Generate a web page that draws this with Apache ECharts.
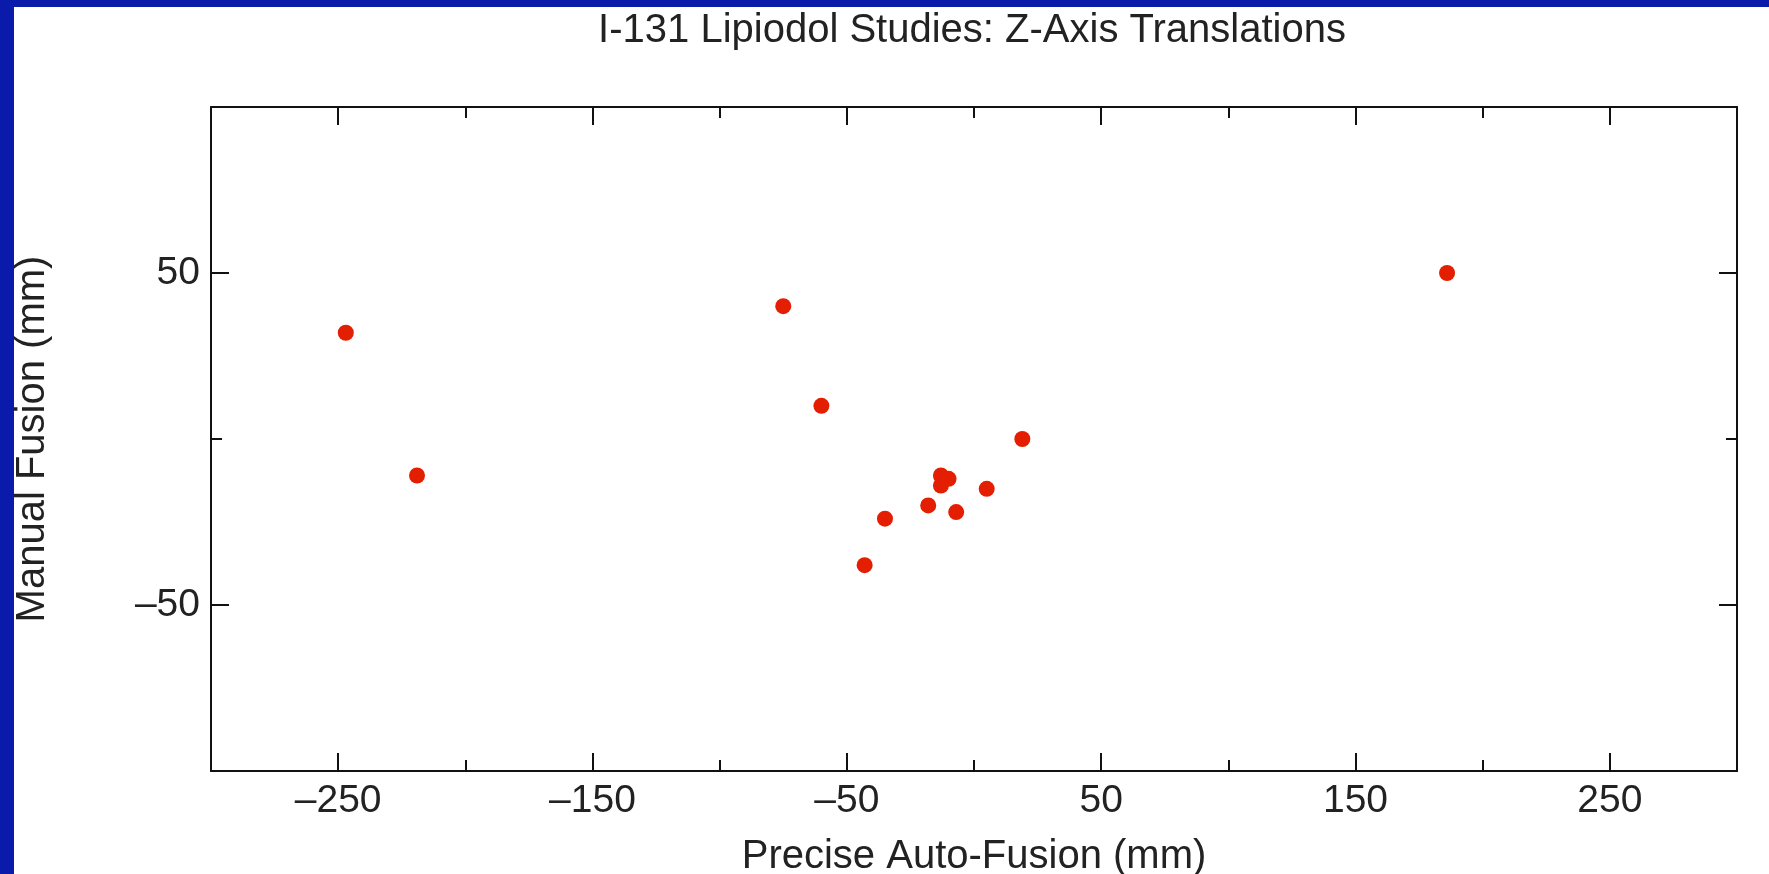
<!DOCTYPE html>
<html>
<head>
<meta charset="utf-8">
<script src="https://cdn.jsdelivr.net/npm/echarts@6/dist/echarts.min.js"></script>
<style>
html,body{margin:0;padding:0;background:#0A1AAA;}
#chart{width:1769px;height:874px;}
</style>
</head>
<body>
<div id="chart"></div>
<script>
// Data
var autoFusion = [-247, -219, -75, -60, 19, -13, -10, -13, 5, -18, -7, -35, -43, 186];
var manualFusion = [32, -11, 40, 10, 0, -11, -12, -14, -15, -20, -22, -24, -38, 50];
var xMajorTicks = [-250, -150, -50, 50, 150, 250];
var xMinorTicks = [-200, -100, 0, 100, 200];
var yMajorTicks = [-50, 50];
var yMinorTicks = [0];
var titleText = 'I-131 Lipiodol Studies: Z-Axis Translations';
var xName = 'Precise Auto-Fusion (mm)';
var yName = 'Manual Fusion (mm)';

var FONT = 'Liberation Sans';
var TICK_FS = 39;
var NAME_FS = 40;
var points = autoFusion.map(function (x, i) { return [x, manualFusion[i]]; });
function fmt(v) { return String(v).replace('-', '\u2013'); }

function xAx(pos, ticks, len, showLabel, showLine, extra) {
  var a = {
    type: 'value', position: pos, min: -300, max: 300,
    splitLine: { show: false },
    axisLine: { show: showLine, onZero: false, lineStyle: { color: '#111', width: 2 } },
    axisTick: { show: true, inside: true, length: len, customValues: ticks, lineStyle: { color: '#111', width: 2 } },
    axisLabel: { show: showLabel, customValues: ticks, formatter: fmt, color: '#222', fontFamily: FONT, fontSize: TICK_FS, margin: 11 }
  };
  return Object.assign(a, extra || {});
}
function yAx(pos, ticks, len, showLabel, showLine, extra) {
  var a = {
    type: 'value', position: pos, min: -100, max: 100,
    splitLine: { show: false },
    axisLine: { show: showLine, onZero: false, lineStyle: { color: '#111', width: 2 } },
    axisTick: { show: true, inside: true, length: len, customValues: ticks, lineStyle: { color: '#111', width: 2 } },
    axisLabel: { show: showLabel, customValues: ticks, formatter: fmt, color: '#222', fontFamily: FONT, fontSize: TICK_FS, margin: 11 }
  };
  return Object.assign(a, extra || {});
}

var chart = echarts.init(document.getElementById('chart'));
chart.setOption({
  backgroundColor: '#0A1AAA',
  animation: false,
  graphic: [{
    type: 'rect', left: 14, top: 7, z: -10,
    shape: { width: 1769 - 14, height: 874 - 7 },
    style: { fill: '#ffffff' }
  }],
  title: {
    text: titleText, left: 967, top: 6, textAlign: 'center',
    textStyle: { fontFamily: FONT, fontWeight: 'normal', fontSize: 40, color: '#222' }
  },
  grid: { left: 211, right: 32, top: 107, bottom: 103, containLabel: false, outerBoundsMode: 'none' },
  xAxis: [
    xAx('bottom', xMajorTicks, 18, true, true, {
      name: xName, nameLocation: 'middle', nameGap: 66,
      nameTextStyle: { fontFamily: FONT, fontSize: NAME_FS, color: '#222' }
    }),
    xAx('bottom', xMinorTicks, 11, false, false),
    xAx('top', xMajorTicks, 18, false, true),
    xAx('top', xMinorTicks, 11, false, false)
  ],
  yAxis: [
    yAx('left', yMajorTicks, 18, true, true, {
      name: yName, nameLocation: 'middle', nameGap: 158,
      nameTextStyle: { fontFamily: FONT, fontSize: NAME_FS, color: '#222' }
    }),
    yAx('left', yMinorTicks, 11, false, false),
    yAx('right', yMajorTicks, 18, false, true),
    yAx('right', yMinorTicks, 11, false, false)
  ],
  series: [{
    type: 'scatter', xAxisIndex: 0, yAxisIndex: 0,
    data: points, symbol: 'circle', symbolSize: 16,
    itemStyle: { color: '#E41E00', opacity: 1 }
  }]
});
</script>
</body>
</html>
